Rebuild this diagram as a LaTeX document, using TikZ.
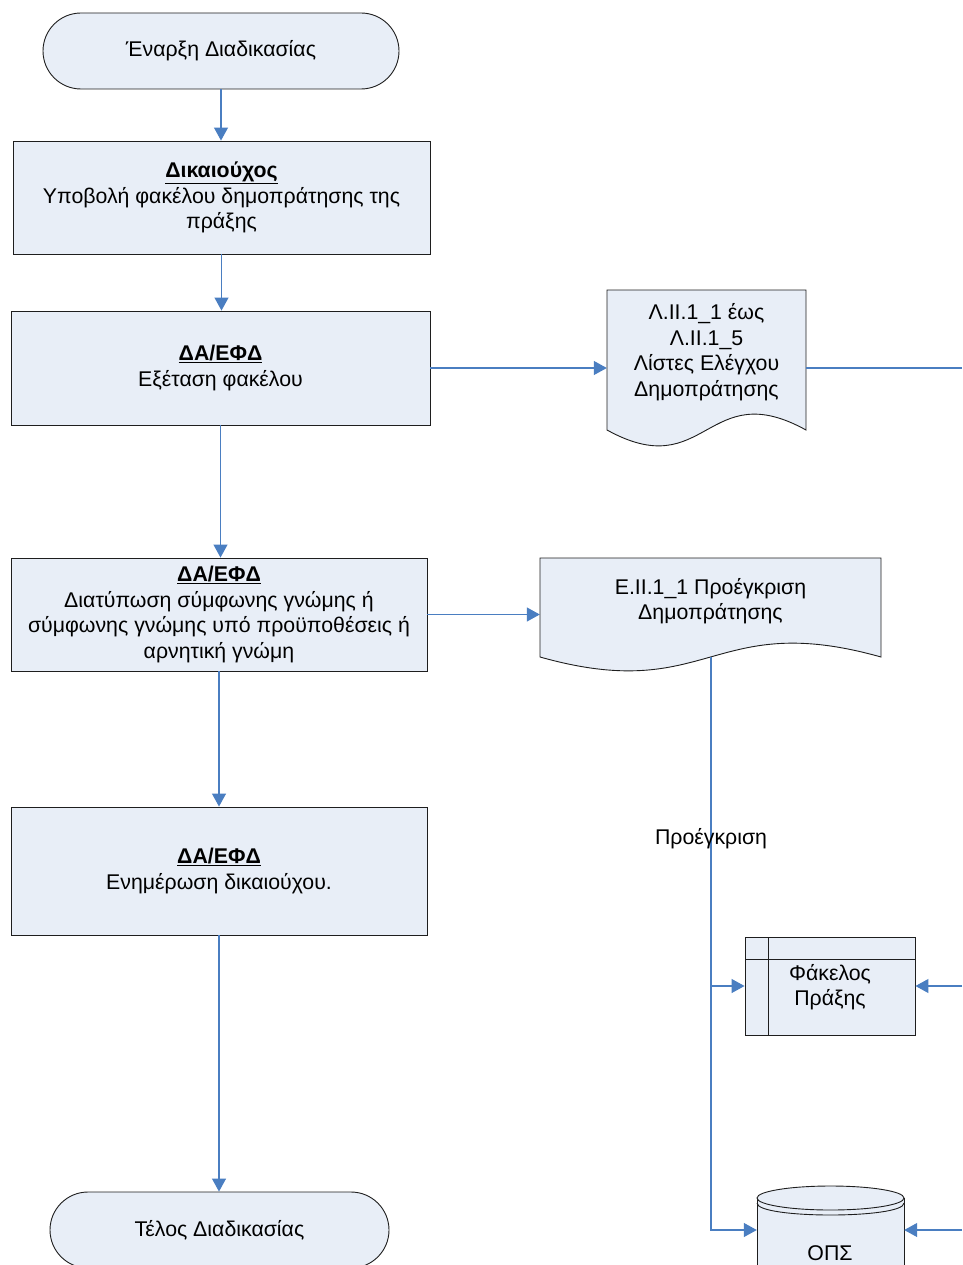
\documentclass[tikz,border=0pt]{standalone}
\usepackage{fontspec}
\setmainfont{Liberation Sans}
\usetikzlibrary{arrows.meta}
\definecolor{fillb}{RGB}{232,238,247}
\definecolor{lineb}{RGB}{74,126,193}
\definecolor{edgec}{RGB}{30,30,30}
\newcommand\hd[1]{\underline{\textbf{#1}}}
\begin{document}
\begin{tikzpicture}[x=1pt,y=-1pt,
  every node/.style={font=\fontsize{21.3}{25.5}\selectfont, text=black},
  box/.style={draw=edgec, line width=0.9pt, fill=fillb, inner sep=0pt, align=center},
  term/.style={box, rounded corners=38pt},
  shapeline/.style={draw=edgec, line width=0.9pt},
  conn/.style={draw=lineb, line width=1.2pt},
  arr/.style={conn, -{Triangle[length=13pt,width=14pt]}},
  plain/.style={inner sep=0pt, align=center},
  ghost/.style={inner sep=0pt, minimum width=#1}]
\useasboundingbox (0,0) rectangle (962,1265);
\clip (0,0) rectangle (962,1265);

% terminals and process boxes
\node[term, minimum width=356pt, minimum height=76pt] (start) at (221,51) {\raisebox{-1.5pt}{Έναρξη Διαδικασίας}};
\node[box, minimum width=417pt, minimum height=113pt] (b1) at (221.5,197.5)
  {\hd{Δικαιούχος}\\Υποβολή φακέλου δημοπράτησης της\\πράξης};
\node[box, minimum width=419pt, minimum height=114pt] (b2) at (220.5,368)
  {\hd{ΔΑ/ΕΦΔ}\\Εξέταση φακέλου};
\node[box, minimum width=416pt, minimum height=113pt] (b3) at (219,614.5)
  {\hd{ΔΑ/ΕΦΔ}\\Διατύπωση σύμφωνης γνώμης ή\\σύμφωνης γνώμης υπό προϋποθέσεις ή\\αρνητική γνώμη};
\node[box, minimum width=416pt, minimum height=128pt] (b4) at (219,871)
  {\hd{ΔΑ/ΕΦΔ}\\Ενημέρωση δικαιούχου.};
\node[term, minimum width=339pt, minimum height=76pt] (end) at (219.5,1230) {\raisebox{-1.5pt}{Τέλος Διαδικασίας}};

% document 1
\draw[box] (607,290) -- (806,290) -- (806,430)
  .. controls (706.5,375) and (706.5,485) .. (607,430) -- cycle;
\node[ghost=199pt, minimum height=156pt] (doc1) at (706.5,368) {};
\node[plain] (doc1t) at (706.5,352) {Λ.ΙΙ.1\_1 έως\\Λ.ΙΙ.1\_5\\Λίστες Ελέγχου\\Δημοπράτησης};

% document 2
\draw[box] (540,558) -- (881,558) -- (881,657)
  .. controls (710.5,609) and (710.5,705) .. (540,657) -- cycle;
\node[ghost=341pt, minimum height=114pt] (doc2) at (710.5,615) {};
\node[plain] (doc2t) at (710.5,601) {Ε.ΙΙ.1\_1 Προέγκριση\\Δημοπράτησης};
\coordinate (d2b) at (711,657);

% file (Φάκελος Πράξης)
\node[box, minimum width=170pt, minimum height=98pt] (fak) at (830,986) {};
\draw[shapeline] (745,959) -- (915,959) (768,937) -- (768,1035);
\node[plain] (fakt) at (830,987) {Φάκελος\\Πράξης};

% database (ΟΠΣ)
\fill[fillb] (757,1198) rectangle (904,1290);
\draw[shapeline] (757,1198) -- (757,1290) (904,1198) -- (904,1290);
\draw[box] (830.5,1198) ellipse [x radius=73.5, y radius=12];
\draw[shapeline] (757,1203) .. controls (757,1219) and (904,1219) .. (904,1203);
\node[ghost=147pt, minimum height=80pt] (ops) at (830.5,1230) {};
\node[plain] (opst) at (830,1253) {ΟΠΣ};

% free ends at the right edge
\coordinate (r1) at (962,368);
\coordinate (r2) at (962,986);
\coordinate (r3) at (962,1230);

% connectors
\draw[arr] (start.south) -- (start.south |- b1.north);
\draw[arr] (b1.south) -- (b1.south |- b2.north);
\draw[arr] (b2.south) -- (b2.south |- b3.north);
\draw[arr] (b3.south) -- (b3.south |- b4.north);
\draw[arr] (b4.south) -- (b4.south |- end.north);
\draw[arr] (b2.east) -- (doc1.west);
\draw[conn] (doc1.east) -- (r1);
\draw[arr] (b3.east) -- (b3.east -| doc2.west);
\draw[arr] (d2b) |- (fak.west);
\draw[arr] (d2b) |- (ops.west);
\draw[arr] (r2) -- (fak.east);
\draw[arr] (r3) -- (ops.east);

\node[plain] (lab) at (711,839) {Προέγκριση};
\end{tikzpicture}
\end{document}
